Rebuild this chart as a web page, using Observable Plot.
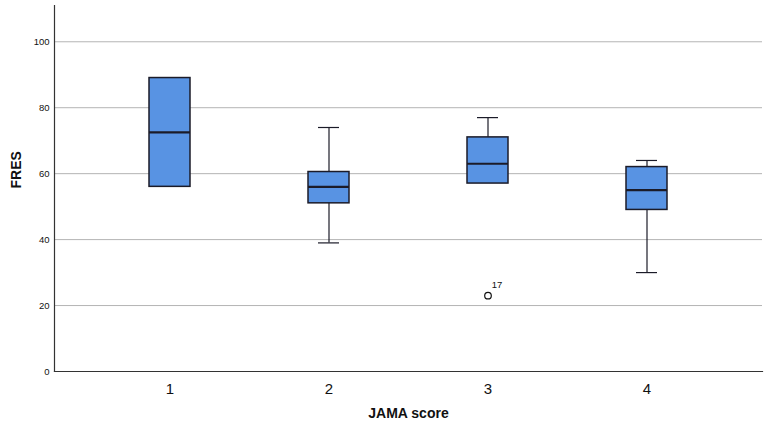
<!DOCTYPE html>
<html>
<head>
<meta charset="utf-8">
<script src="https://cdn.jsdelivr.net/npm/d3@7"></script>
<script src="https://cdn.jsdelivr.net/npm/@observablehq/plot@0.6"></script>
<style>
  html, body { margin: 0; padding: 0; background: #fff; }
  #chart svg { display: block; }
</style>
</head>
<body>
<div id="chart"></div>
<script>
const categories = ["1", "2", "3", "4"];
const whiskerLow  = [56, 39, 57, 30];
const q1          = [56, 51, 57, 49];
const median      = [72.5, 56, 63, 55];
const q3          = [89, 60.5, 71, 62];
const whiskerHigh = [89, 74, 77, 64];
const outlierCategory = ["3"];
const outlierValue = [23];
const outlierLabel = ["17"];
const yTicks = [0, 20, 40, 60, 80, 100];

const boxes = categories.map((c, i) => ({
  c, lo: whiskerLow[i], q1: q1[i], med: median[i], q3: q3[i], hi: whiskerHigh[i]
}));
const outliers = outlierCategory.map((c, i) => ({c, v: outlierValue[i], label: outlierLabel[i]}));

const fill = "#5893e3";
const dark = "#1b1b28";

const chart = Plot.plot({
  width: 767,
  height: 424,
  marginLeft: 54,
  marginRight: 5,
  marginTop: 5,
  marginBottom: 53,
  style: {fontFamily: "Liberation Sans, Arial, sans-serif", background: "#fff"},
  x: {domain: categories, paddingInner: 0.742, paddingOuter: 0.597, label: null},
  y: {domain: [0, 111], label: null},
  marks: [
    Plot.gridY([20, 40, 60, 80, 100], {stroke: "#b4b4b4", strokeOpacity: 1, strokeWidth: 1}),
    Plot.axisY({ticks: yTicks, tickSize: 0, tickPadding: 5, fontSize: 9.5, fill: "#111"}),
    Plot.axisX({tickSize: 0, tickPadding: 12, fontSize: 15, fill: "#111"}),
    Plot.text(["JAMA score"], {frameAnchor: "bottom", dy: 46, fontSize: 14, fontWeight: "bold", fill: "#111"}),
    Plot.text(["FRES"], {frameAnchor: "left", dx: -38, rotate: -90, fontSize: 14, fontWeight: "bold", fill: "#111"}),
    // whiskers
    Plot.ruleX(boxes, {x: "c", y1: "lo", y2: "q1", stroke: dark, strokeWidth: 1.2}),
    Plot.ruleX(boxes, {x: "c", y1: "q3", y2: "hi", stroke: dark, strokeWidth: 1.2}),
    Plot.tickY(boxes.filter(d => d.lo < d.q1), {x: "c", y: "lo", stroke: dark, strokeWidth: 1.2, insetLeft: 10, insetRight: 10}),
    Plot.tickY(boxes.filter(d => d.hi > d.q3), {x: "c", y: "hi", stroke: dark, strokeWidth: 1.2, insetLeft: 10, insetRight: 10}),
    // boxes
    Plot.barY(boxes, {x: "c", y1: "q1", y2: "q3", fill: fill, stroke: dark, strokeWidth: 1.5}),
    Plot.tickY(boxes, {x: "c", y: "med", stroke: dark, strokeWidth: 2.2}),
    // outliers
    Plot.dot(outliers, {x: "c", y: "v", r: 3.3, fill: "#fff", stroke: "#111", strokeWidth: 1.2}),
    Plot.text(outliers, {x: "c", y: "v", text: "label", dx: 9, dy: -11, fontSize: 9.5, fill: "#111"}),
    Plot.frame({anchor: "left", stroke: "#333", strokeWidth: 1.2}),
    Plot.frame({anchor: "bottom", stroke: "#333", strokeWidth: 1.2})
  ]
});
document.getElementById("chart").appendChild(chart);
</script>
</body>
</html>
